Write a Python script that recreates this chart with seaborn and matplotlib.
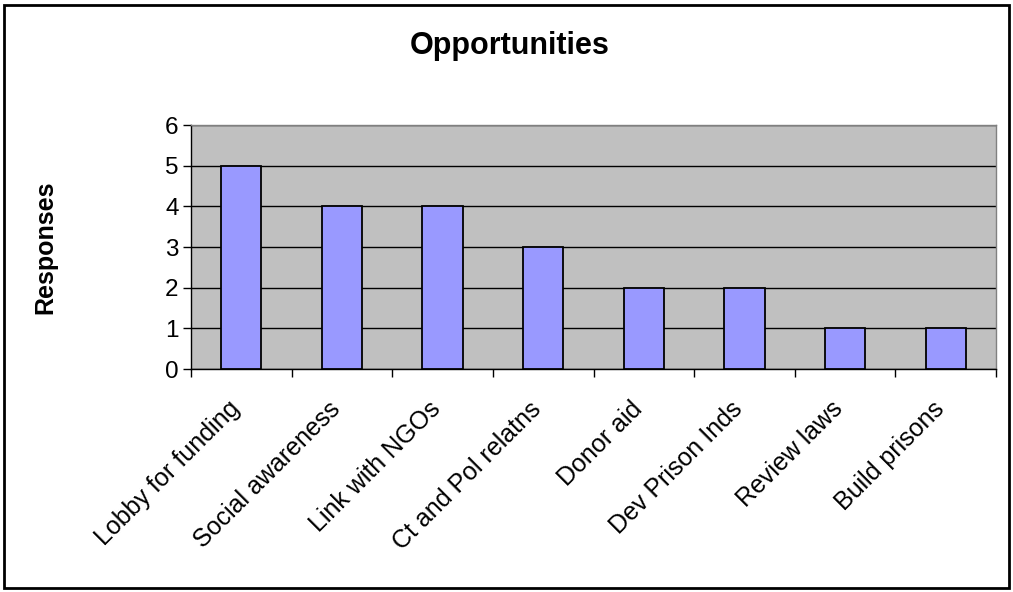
import matplotlib
matplotlib.use("Agg")
import matplotlib.pyplot as plt
import matplotlib.transforms as mtransforms
import seaborn as sns
import pandas as pd
from matplotlib.patches import Rectangle

categories = ["Lobby for funding", "Social awareness", "Link with NGOs", "Ct and Pol relatns",
              "Donor aid", "Dev Prison Inds", "Review laws", "Build prisons"]
responses = [5, 4, 4, 3, 2, 2, 1, 1]
yticks = [0, 1, 2, 3, 4, 5, 6]

df = pd.DataFrame({"cat": categories, "val": responses})

sns.set_style("white")
plt.rcParams["font.family"] = ["Liberation Sans", "DejaVu Sans"]
plt.rcParams["text.color"] = "black"
plt.rcParams["xtick.color"] = "black"
plt.rcParams["ytick.color"] = "black"
plt.rcParams["xtick.labelcolor"] = "black"
plt.rcParams["ytick.labelcolor"] = "black"

fig = plt.figure(figsize=(10.13, 5.92), dpi=100)
ax = fig.add_axes([191/1013, 1-369/592, (996-191)/1013, (369-125)/592])
ax.set_facecolor("#C0C0C0")

sns.barplot(data=df, x="cat", y="val", ax=ax, color="#9999FF", width=0.4,
            edgecolor="black", linewidth=1.3, saturation=1, zorder=3)

ax.set_xlim(-0.5, len(categories) - 0.5)
ax.set_ylim(0, 6)
ax.set_yticks(yticks)
ax.yaxis.grid(True, color="black", linewidth=1)
ax.set_axisbelow(True)
for b in ax.patches:
    b.set_zorder(3)

ax.tick_params(axis="y", labelsize=17.5, length=6, width=1, color="black", pad=3, direction="out", left=True)
ax.set_xticks([i for i in range(len(categories))])
ax.set_xticklabels(categories, rotation=45, ha="right", rotation_mode="anchor", fontsize=18)
ax.tick_params(axis="x", length=0, pad=20)
ax.set_xticks([i + 0.5 for i in range(-1, len(categories))], minor=True)
ax.tick_params(axis="x", which="minor", length=6, width=1, color="black", direction="out", bottom=True)

offset = mtransforms.ScaledTranslation(-14/100, 0, fig.dpi_scale_trans)
for lbl in ax.get_xticklabels():
    lbl.set_transform(lbl.get_transform() + offset)

ax.set_xlabel("")
ax.set_ylabel("")
for s in ["left", "bottom"]:
    ax.spines[s].set_color("black")
    ax.spines[s].set_linewidth(1)
for s in ["top", "right"]:
    ax.spines[s].set_color("#808080")
    ax.spines[s].set_linewidth(1)

fig.text(510/1013, 1-46/592, "Opportunities", ha="center", va="center", fontsize=22, fontweight="bold")
fig.text(45/1013, 1-247/592, "Responses", ha="center", va="center", rotation=90, fontsize=18, fontweight="bold")

fig.patches.append(Rectangle((4/1013, 4/592), 1005/1013, 583/592, transform=fig.transFigure,
                             fill=False, edgecolor="black", linewidth=2))

fig.savefig("out.png", dpi=100)
